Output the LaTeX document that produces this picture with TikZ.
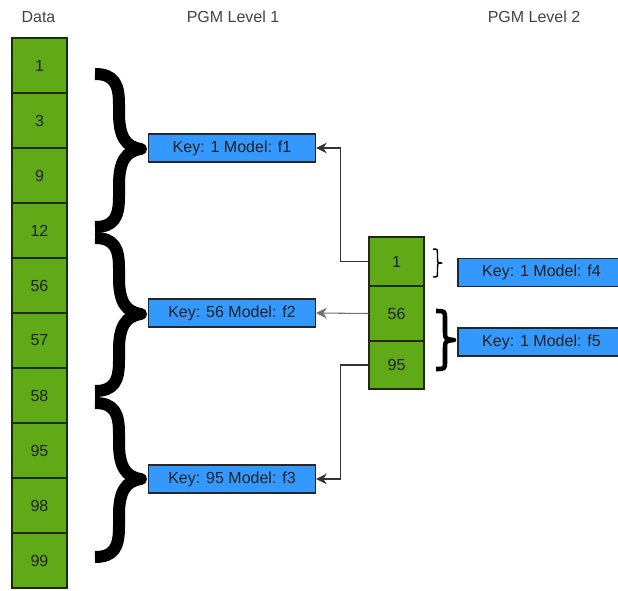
\documentclass[tikz,border=0pt]{standalone}
\usepackage{fontspec}
\setmainfont{Liberation Sans}
\usetikzlibrary{arrows.meta}
\definecolor{cellgreen}{HTML}{60A917}
\definecolor{cellborder}{HTML}{1E2A0C}
\definecolor{boxblue}{HTML}{3399FF}
\definecolor{txt}{HTML}{222222}
\definecolor{conncol}{HTML}{333333}
\tikzset{
  datacell/.style={draw=cellborder, line width=1pt, fill=cellgreen, minimum width=41.25pt, text=txt, inner sep=0pt, font=\fontsize{12pt}{14pt}\selectfont},
  keybox/.style={draw=black!85, line width=0.9pt, fill=boxblue, minimum width=125.25pt, minimum height=21pt, text=txt, inner sep=0pt, font=\fontsize{12pt}{14pt}\selectfont},
  header/.style={text=txt!85, font=\fontsize{12pt}{14pt}\selectfont, inner sep=0pt},
  conn/.style={draw=conncol, line width=0.8pt, -{Stealth[length=8pt, width=8pt, inset=2.6pt]}},
  bigbrace/.style={line width=9pt, line join=round, draw=black},
}
\newcommand{\drawbrace}[3]{% ytop, ybot, ymid
  \draw[bigbrace] (95,#1+6) .. controls (114,#1+6) and (119,#1+16) .. (119,#1+36) -- (119,#3-36)
    .. controls (119,#3-12) and (126,#3-2) .. (141,#3) .. controls (126,#3+2) and (119,#3+12) .. (119,#3+36)
    -- (119,#2-36) .. controls (119,#2-16) and (114,#2-6) .. (95,#2-6);
}
\begin{document}
\begin{tikzpicture}[x=0.75pt, y=-0.75pt]
\useasboundingbox (0,0) rectangle (618,590);

% headers
\node[header] (hdata) at (38.5,17) {Data};
\node[header] (hpgm1) at (233,17) {PGM Level 1};
\node[header] (hpgm2) at (534,17) {PGM Level 2};

% data column
\foreach \v [count=\i from 0] in {1,3,9,12,56,57,58,95,98,99} {
  \node[datacell, minimum height=41.25pt] (d\i) at (39.5, 65.5+55*\i) {\v};
}

% braces level 1
\drawbrace{68}{233}{149}
\drawbrace{232}{397}{314}
\drawbrace{397}{563}{479}

% level 1 boxes
\node[keybox] (f1) at (232,148) {Key: 1 Model: f1};
\node[keybox] (f2) at (232,313) {Key: 56 Model: f2};
\node[keybox] (f3) at (232,479) {Key: 95 Model: f3};

% level 2 column
\node[datacell, minimum height=36.75pt] (l1) at (396.5,261.5) {1};
\node[datacell, minimum height=41.25pt] (l56) at (396.5,313.5) {56};
\node[datacell, minimum height=36pt] (l95) at (396.5,365) {95};

% level 2 boxes
\node[keybox] (f4) at (541.5,272.5) {Key: 1 Model: f4};
\node[keybox] (f5) at (541.5,342) {Key: 1 Model: f5};

% small braces
\draw[line width=1.1pt, line join=round] (433,249) .. controls (437.5,249) .. (437.5,254) -- (437.5,258)
  .. controls (437.5,263) .. (442,263) .. controls (437.5,263) .. (437.5,268) -- (437.5,272)
  .. controls (437.5,277) .. (433,277);
\draw[line width=3.4pt, line join=round] (436,311) .. controls (445,311) .. (445,319) -- (445,331)
  .. controls (445,339) .. (454,340) .. controls (445,341) .. (445,349) -- (445,361)
  .. controls (445,369) .. (436,369);

% connectors
\draw[conn] (l1.west) -- ++(-27.5,0) |- (f1.east);
\draw[conn, draw=conncol!70] (l56.west) -- (f2.east);
\draw[conn] (l95.west) -- ++(-27.5,0) |- (f3.east);
\end{tikzpicture}
\end{document}
